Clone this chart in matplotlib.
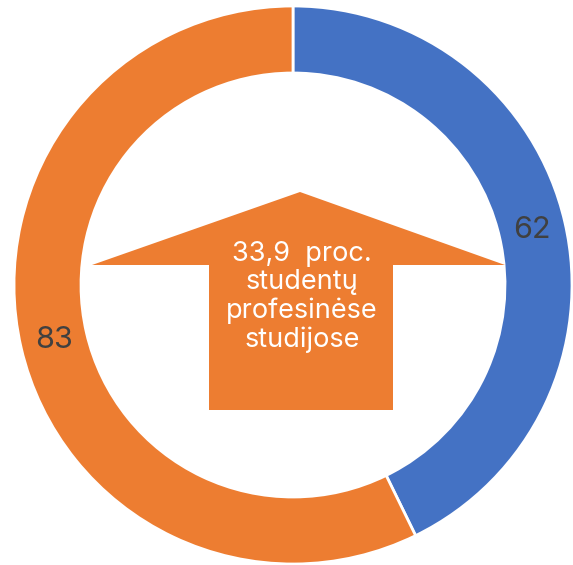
import matplotlib.pyplot as plt
from matplotlib.patches import Polygon

# duomenys
values = [62, 83]
colors = ['#4472C4', '#ED7D31']
center_text = "33,9  proc.\nstudentų\nprofesinėse\nstudijose"

W, H = 573, 565
fig = plt.figure(figsize=(W / 100, H / 100), dpi=100)
ax = fig.add_axes([0, 0, 1, 1])

cx, cy = 293, H - 285
r_out, ring = 279, 67

wedges, texts, autotexts = ax.pie(
    values, colors=colors, startangle=90, counterclock=False,
    radius=r_out, center=(cx, cy), frame=True,
    autopct=lambda p: '{:.0f}'.format(p * sum(values) / 100),
    pctdistance=(r_out - ring / 2) / r_out,
    wedgeprops=dict(width=ring, edgecolor='white', linewidth=2),
    textprops=dict(color='#404040', fontsize=22, family='Inter'))
ax.set_xlim(0, W)
ax.set_ylim(0, H)
ax.set_aspect('equal')
ax.axis('off')

# rodyklė centre
def p(x, y):
    return (x, H - y)

arrow = Polygon([p(92, 265), p(300, 192), p(505, 265), p(393, 265),
                 p(393, 410), p(209, 410), p(209, 265)],
                closed=True, facecolor='#ED7D31', edgecolor='none')
ax.add_patch(arrow)

ax.text(302, H - 297, center_text, ha='center', va='center', color='white',
        fontsize=19.5, family='Inter', linespacing=1.12)

fig.savefig('out.png', dpi=100)
